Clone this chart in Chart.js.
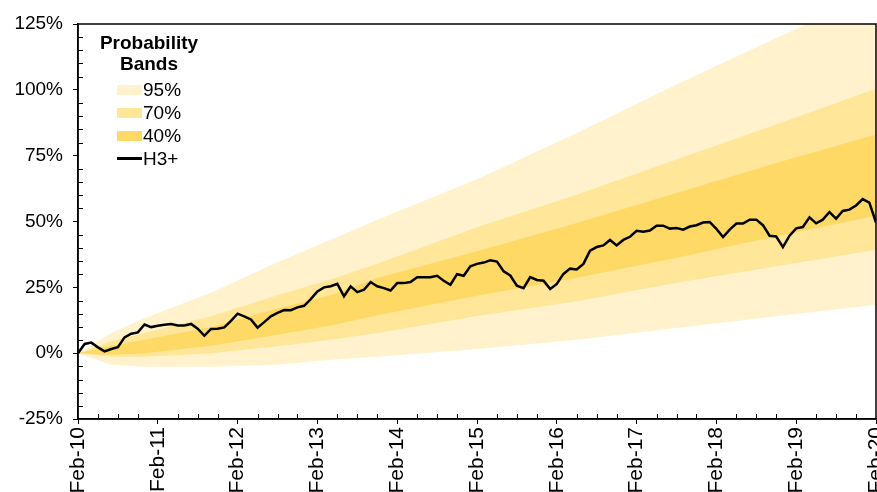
<!DOCTYPE html>
<html>
<head>
<meta charset="utf-8">
<script src="https://cdn.jsdelivr.net/npm/chart.js@4.4.1/dist/chart.umd.min.js"></script>
<style>
  body { margin: 0; background: #fff; }
  #wrap { position: relative; width: 877px; height: 492px; overflow: hidden; }
  #legend {
    position: absolute; left: 96px; top: 32px;
    font-family: "Liberation Sans", Arial, sans-serif; font-size: 19px; color: #000;
  }
  #legend .title { font-weight: bold; text-align: center; line-height: 21px; width: 106px; }
  #legend .row { display: flex; align-items: center; height: 23px; margin-left: 21px; }
  #legend .sw { width: 25px; height: 10px; margin-right: 1px; }
  #legend .ln { width: 25px; height: 2.5px; background: #000; margin-right: 1px; }
</style>
</head>
<body>
<div id="wrap">
  <canvas id="chart"></canvas>
  <div id="legend">
    <div class="title">Probability<br>Bands</div>
    <div class="row" style="margin-top:4px"><div class="sw" style="background:#FFF2CC"></div>95%</div>
    <div class="row"><div class="sw" style="background:#FFE699"></div>70%</div>
    <div class="row"><div class="sw" style="background:#FFD966"></div>40%</div>
    <div class="row"><div class="ln"></div>H3+</div>
  </div>
</div>
<script>
// --- Datos ---
const xLabels = ["Feb-10", "Feb-11", "Feb-12", "Feb-13", "Feb-14", "Feb-15",
                 "Feb-16", "Feb-17", "Feb-18", "Feb-19", "Feb-20"];

// H3+ mensual (%), feb-2010 a feb-2020
const h3 = [
  0, 3.5, 4, 2.2, 0.7, 1.6, 2.3, 6, 7.4, 7.9, 10.9, 9.9,
  10.4, 10.8, 11.1, 10.5, 10.5, 11.1, 9.3, 6.6, 9.2, 9.3, 9.8, 12.3,
  15, 14, 12.8, 9.7, 11.8, 14, 15.3, 16.4, 16.3, 17.4, 18, 20.5,
  23.4, 25, 25.4, 26.3, 21.6, 25.4, 23.2, 24.1, 27, 25.4, 24.7, 23.8,
  26.6, 26.6, 27, 28.8, 28.8, 28.8, 29.4, 27.5, 26, 30, 29.4, 33,
  33.9, 34.4, 35.3, 34.8, 31.1, 29.5, 25.6, 24.7, 28.9, 27.8, 27.5, 24.4,
  26.3, 30.1, 32.1, 31.8, 33.9, 38.9, 40.3, 40.9, 43, 40.9, 43, 44.2,
  46.5, 46.1, 46.6, 48.4, 48.4, 47.3, 47.5, 46.9, 48.1, 48.6, 49.6, 49.8,
  47.2, 44.1, 46.9, 49.2, 49.2, 50.7, 50.7, 48.6, 44.6, 44.3, 40.3, 44.6,
  47.4, 47.9, 51.6, 49.3, 50.7, 53.6, 51.1, 54, 54.5, 56.1, 58.5, 57.2,
  49.6
];

// Bandas (meses desde feb-2010)
const bandMonths = [0, 5, 10, 20, 30, 38, 45, 60, 75, 90, 105, 120];
const top95 = [0, 7.7, 13.4, 22.9, 34.5, 43.1, 50.7, 66, 83.6, 102, 119.7, 137];
const top70 = [0, 4.5, 7.7, 14, 22, 28, 34, 47.8, 60.2, 73.5, 86.8, 100.4];
const top40 = [0, 2.8, 5.1, 9.9, 17, 22, 28.5, 38.7, 49.4, 60.8, 72.2, 83];
const bot40 = [0, -0.6, 0, 2.8, 7, 10.5, 14.4, 21.8, 28.6, 36.2, 44.4, 52.2];
const bot70 = [0, -1.4, -1.4, 0, 2.6, 5.1, 7.7, 14.1, 19.7, 26.7, 33, 39.3];
const bot95 = [0, -4.4, -5.2, -5.2, -4.4, -2.5, -1.4, 1.6, 5.1, 9.6, 14, 18.4];

const c95 = "#FFF2CC", c70 = "#FFE699", c40 = "#FFD966";

const pts = arr => arr.map((v, i) => ({ x: bandMonths[i], y: v }));
const band = (data, color, target) => ({
  data: pts(data), borderWidth: 0, pointRadius: 0, backgroundColor: color,
  borderColor: color, fill: target === null ? false : { target: target }
});

// marco y marcas menores
const framePlugin = {
  id: "frame",
  afterDraw(chart) {
    const { ctx, chartArea: a, scales } = chart;
    ctx.save();
    ctx.strokeStyle = "#000";
    ctx.lineWidth = 1;
    ctx.beginPath();
    for (let v = -25; v <= 125; v += 5) {
      if (v % 25 === 0) continue;
      const y = Math.round(scales.y.getPixelForValue(v)) + 0.5;
      ctx.moveTo(a.left, y); ctx.lineTo(a.left + 5, y);
    }
    for (let m = 0; m <= 120; m += 3) {
      if (m % 12 === 0) continue;
      const x = Math.round(scales.x.getPixelForValue(m)) + 0.5;
      ctx.moveTo(x, a.bottom); ctx.lineTo(x, a.bottom - 5);
    }
    ctx.stroke();
    ctx.lineWidth = 1.5;
    ctx.strokeRect(a.left, a.top, a.right - a.left, a.bottom - a.top);
    ctx.restore();
  }
};

const font = { family: "'Liberation Sans', Arial, sans-serif", size: 19 };

new Chart(document.getElementById("chart"), {
  type: "line",
  data: {
    datasets: [
      {
        label: "H3+",
        data: h3.map((v, i) => ({ x: i, y: v })),
        borderColor: "#000", borderWidth: 2.5, pointRadius: 0, fill: false, tension: 0
      },
      band(top40, c40, 2),
      band(bot40, c40, null),
      band(top70, c70, 4),
      band(bot70, c70, null),
      band(top95, c95, 6),
      band(bot95, c95, null)
    ]
  },
  options: {
    responsive: true,
    maintainAspectRatio: false,
    animation: false,
    layout: { padding: { top: 24, right: 1, left: 0, bottom: 0 } },
    plugins: { legend: { display: false }, tooltip: { enabled: false } },
    scales: {
      x: {
        type: "linear", min: 0, max: 120,
        afterFit: s => { s.height = 73; s.paddingLeft = 0; s.paddingRight = 0; },
        border: { color: "#000", width: 1.5 },
        grid: { drawOnChartArea: false, drawTicks: true, tickLength: 5, color: "#000" },
        ticks: {
          stepSize: 12, autoSkip: false, minRotation: 90, maxRotation: 90,
          padding: 3, color: "#000", font: { family: font.family, size: 21 },
          callback: v => xLabels[v / 12]
        }
      },
      y: {
        min: -25, max: 125,
        afterFit: s => { s.width = 78; s.paddingTop = 0; s.paddingBottom = 0; },
        border: { color: "#000", width: 1.5 },
        grid: { drawOnChartArea: false, drawTicks: true, tickLength: 5, color: "#000" },
        ticks: {
          stepSize: 25, padding: 10, color: "#000", font: font,
          callback: v => v + "%"
        }
      }
    }
  },
  plugins: [framePlugin]
});
</script>
</body>
</html>
